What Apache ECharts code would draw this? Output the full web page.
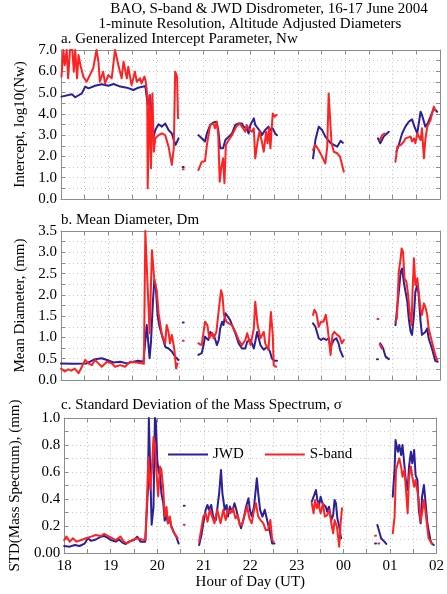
<!DOCTYPE html>
<html>
<head>
<meta charset="utf-8">
<script src="https://cdn.jsdelivr.net/npm/echarts@6/dist/echarts.min.js"></script>
<style>
  html, body { margin: 0; background: #fff; }
  #chart { width: 447px; height: 594px; }
</style>
</head>
<body>
<div id="chart"></div>
<script>
// hour of day (18..26 = 18 UT .. 02 UT next day), value pairs per data run

// a. log10(Nw)
const jwdNw = [
  [[18.01,4.81],[18.23,4.92],[18.3,4.78],[18.44,4.96],[18.51,5.28],[18.58,5.2],[18.72,5.32],[18.86,5.39],[19.0,5.32],[19.11,5.4],[19.25,5.28],[19.39,5.23],[19.53,5.12],[19.63,5.23],[19.78,5.31],[19.83,4.42],[19.88,4.88],[19.95,2.85],[19.99,3.24],[20.06,3.51],[20.13,3.4],[20.2,3.55],[20.27,3.24],[20.34,3.08],[20.38,2.77],[20.42,2.54],[20.48,2.85]],
  [[20.57,1.5],[20.59,1.5]],
  [[20.9,3.0],[20.97,2.85],[21.04,2.7],[21.08,3.08],[21.15,3.48],[21.22,3.6],[21.28,3.63],[21.32,3.24],[21.36,2.38],[21.42,2.38],[21.47,2.77],[21.5,2.7],[21.54,2.93],[21.61,3.08],[21.68,3.48],[21.75,3.55],[21.82,3.55],[21.85,3.4],[21.92,3.32],[21.96,3.08],[22.0,3.48],[22.07,3.79],[22.1,3.48],[22.14,3.4],[22.21,3.16],[22.24,3.0],[22.31,3.24],[22.38,3.4],[22.42,3.24],[22.47,3.32],[22.52,3.08],[22.56,3.0]],
  [[23.32,1.91],[23.37,2.77],[23.44,3.4],[23.51,3.24],[23.58,2.93],[23.62,3.0],[23.69,2.62],[23.76,2.54],[23.83,2.46],[23.9,2.73],[23.95,2.64]],
  [[24.69,2.85],[24.74,2.62],[24.81,2.93],[24.88,3.08],[24.92,3.16]],
  [[25.08,2.22],[25.13,2.54],[25.2,3.08],[25.27,3.4],[25.34,3.63],[25.41,3.74],[25.46,3.4],[25.52,3.08],[25.59,4.1],[25.62,3.95],[25.69,3.4],[25.74,3.55],[25.8,3.87],[25.87,4.26],[25.94,4.1]]
];
const sbandNw = [
  [[18.01,5.75],[18.05,7.0],[18.08,6.29],[18.12,7.0],[18.15,5.67],[18.19,7.0],[18.24,7.0],[18.27,5.98],[18.3,7.0],[18.34,5.67],[18.37,6.76],[18.41,6.29],[18.47,5.75],[18.54,5.51],[18.61,5.82],[18.68,6.14],[18.75,7.0],[18.79,6.45],[18.82,5.51],[18.89,5.98],[18.93,5.43],[19.0,5.82],[19.07,5.67],[19.14,7.0],[19.18,6.61],[19.21,6.29],[19.28,5.67],[19.32,6.45],[19.39,5.67],[19.42,6.21],[19.49,5.35],[19.56,5.98],[19.6,5.51],[19.67,5.67],[19.7,5.43],[19.76,5.75],[19.79,5.51],[19.82,4.88],[19.83,0.5],[19.87,4.88],[19.9,1.44],[19.93,4.96],[19.96,2.22],[19.99,2.85],[20.06,3.0],[20.13,3.08],[20.2,3.0],[20.27,2.46],[20.3,2.54],[20.34,1.6],[20.38,2.38],[20.41,5.98],[20.45,5.75],[20.47,3.79]],
  [[20.57,1.4],[20.59,1.4]],
  [[20.9,1.36],[20.97,1.75],[21.04,1.78],[21.08,2.54],[21.15,3.48],[21.22,3.55],[21.25,3.32],[21.29,3.63],[21.32,3.0],[21.35,0.81],[21.38,1.44],[21.42,1.91],[21.45,0.74],[21.48,2.54],[21.54,2.77],[21.61,3.0],[21.64,2.93],[21.7,3.4],[21.77,3.55],[21.82,3.4],[21.89,3.16],[21.92,3.48],[21.98,3.24],[22.03,3.16],[22.07,3.32],[22.1,1.91],[22.15,2.7],[22.19,3.16],[22.24,2.7],[22.28,2.22],[22.33,3.16],[22.36,2.62],[22.39,3.32],[22.42,2.38],[22.45,3.4],[22.47,4.02],[22.51,3.87],[22.55,3.95]],
  [[23.32,2.3],[23.37,2.54],[23.44,2.3],[23.51,1.99],[23.58,1.67],[23.62,2.46],[23.65,4.96],[23.69,4.88],[23.71,2.62],[23.76,2.22],[23.83,2.15],[23.89,1.99],[23.93,2.02],[23.97,1.28]],
  [[24.73,2.77],[24.78,3.0],[24.83,3.08]],
  [[25.06,1.75],[25.1,2.46],[25.17,2.54],[25.24,2.7],[25.27,2.85],[25.31,2.77],[25.38,2.93],[25.41,2.7],[25.45,2.85],[25.48,2.62],[25.52,3.08],[25.59,2.77],[25.62,3.32],[25.66,1.91],[25.69,2.77],[25.73,3.4],[25.76,3.48],[25.8,3.71],[25.87,4.34],[25.9,4.18]]
];

// b. mean diameter Dm (mm)
const jwdDm = [
  [[18.0,0.39],[18.26,0.38],[18.54,0.39],[18.72,0.49],[18.86,0.51],[18.97,0.47],[19.11,0.41],[19.25,0.43],[19.39,0.39],[19.53,0.43],[19.63,0.45],[19.74,0.43],[19.81,1.29],[19.87,0.51],[19.9,0.9],[19.94,1.84],[19.97,2.35],[20.0,2.2],[20.04,1.5],[20.08,1.25],[20.13,1.06],[20.2,0.78],[20.27,0.74],[20.34,0.67],[20.41,0.55],[20.48,0.47]],
  [[20.57,1.35],[20.59,1.35]],
  [[20.9,0.59],[20.97,0.63],[21.01,0.82],[21.04,1.02],[21.08,1.06],[21.11,0.94],[21.15,1.13],[21.19,1.17],[21.22,1.06],[21.26,0.94],[21.29,0.82],[21.33,0.94],[21.36,1.21],[21.4,1.37],[21.43,1.29],[21.47,1.57],[21.5,1.53],[21.57,1.41],[21.61,1.29],[21.68,1.1],[21.75,0.86],[21.82,0.74],[21.89,0.74],[21.93,0.9],[22.0,0.94],[22.07,0.74],[22.1,0.9],[22.14,1.13],[22.21,0.82],[22.28,0.71],[22.35,0.78],[22.41,0.67],[22.45,0.51],[22.5,0.45],[22.56,0.45]],
  [[23.32,1.33],[23.37,1.25],[23.41,1.29],[23.44,0.98],[23.49,0.94],[23.54,0.98],[23.6,0.94],[23.65,0.98],[23.69,0.78],[23.72,0.82],[23.76,0.94],[23.81,0.98],[23.86,0.86],[23.89,0.71],[23.95,0.55]],
  [[24.67,0.49],[24.69,0.49]],
  [[24.74,0.86],[24.8,0.74],[24.85,0.55],[24.92,0.49]],
  [[25.06,1.29],[25.09,1.25],[25.13,2.07],[25.17,2.54],[25.2,2.62],[25.24,2.27],[25.27,2.23],[25.31,1.84],[25.34,1.45],[25.38,1.13],[25.41,1.06],[25.45,1.53],[25.48,2.07],[25.52,2.23],[25.55,2.0],[25.59,1.37],[25.62,1.06],[25.66,1.02],[25.69,1.13],[25.73,1.21],[25.76,0.98],[25.83,0.74],[25.9,0.45],[25.95,0.43]]
];
const sbandDm = [
  [[18.0,0.27],[18.08,0.2],[18.15,0.25],[18.22,0.22],[18.29,0.27],[18.37,0.16],[18.44,0.31],[18.51,0.47],[18.58,0.39],[18.65,0.35],[18.72,0.47],[18.79,0.39],[18.86,0.31],[18.97,0.43],[19.07,0.39],[19.14,0.31],[19.25,0.35],[19.35,0.31],[19.46,0.43],[19.6,0.41],[19.75,0.38],[19.78,3.5],[19.82,3.5],[19.87,1.1],[19.92,3.05],[19.97,2.35],[20.02,2.11],[20.06,1.57],[20.13,1.06],[20.2,0.86],[20.23,1.29],[20.27,1.13],[20.3,0.86],[20.34,1.06],[20.39,0.74],[20.43,0.27],[20.46,0.39]],
  [[20.57,0.92],[20.59,0.92]],
  [[20.9,0.86],[20.97,0.82],[21.01,1.13],[21.04,1.37],[21.09,1.29],[21.13,0.98],[21.19,1.1],[21.22,0.98],[21.28,1.13],[21.31,1.1],[21.35,1.84],[21.38,2.11],[21.41,1.96],[21.44,1.53],[21.49,1.37],[21.54,1.33],[21.57,1.37],[21.61,1.29],[21.68,1.13],[21.75,0.94],[21.82,0.82],[21.89,0.94],[21.93,1.1],[21.96,0.98],[22.0,0.82],[22.07,1.21],[22.1,1.84],[22.15,1.29],[22.21,0.98],[22.28,1.13],[22.31,0.86],[22.38,0.71],[22.43,1.6],[22.47,1.06],[22.49,0.35],[22.54,0.31]],
  [[23.32,1.53],[23.35,1.65],[23.39,1.57],[23.44,1.25],[23.49,1.37],[23.54,1.37],[23.59,1.53],[23.63,1.21],[23.69,0.59],[23.73,1.06],[23.77,1.13],[23.83,1.06],[23.88,1.02],[23.93,0.86],[23.97,0.94]],
  [[24.68,1.43],[24.7,1.43]],
  [[24.73,0.84],[24.77,0.74]],
  [[25.06,1.37],[25.09,1.45],[25.13,2.54],[25.17,2.86],[25.19,3.09],[25.22,3.01],[25.25,2.39],[25.29,2.31],[25.32,2.07],[25.36,1.6],[25.4,1.29],[25.42,2.07],[25.45,2.86],[25.48,2.23],[25.52,2.39],[25.55,2.07],[25.59,1.65],[25.62,1.53],[25.66,1.8],[25.69,1.72],[25.73,1.53],[25.76,1.21],[25.83,0.9],[25.9,0.59],[25.94,0.47]]
];

// c. standard deviation of the mass spectrum (mm)
const jwdStd = [
  [[18.0,0.052],[18.12,0.047],[18.23,0.059],[18.33,0.052],[18.44,0.07],[18.51,0.109],[18.58,0.09],[18.68,0.1],[18.79,0.121],[18.86,0.126],[18.93,0.114],[19.0,0.096],[19.11,0.084],[19.18,0.1],[19.25,0.077],[19.32,0.067],[19.39,0.084],[19.5,0.096],[19.57,0.121],[19.64,0.084],[19.74,0.084],[19.8,0.47],[19.82,1.0],[19.85,1.0],[19.88,0.21],[19.92,0.34],[19.95,1.0],[19.97,0.98],[20.0,0.69],[20.03,0.6],[20.06,0.58],[20.09,0.44],[20.13,0.37],[20.16,0.24],[20.2,0.28],[20.23,0.22],[20.27,0.25],[20.3,0.2],[20.36,0.15],[20.41,0.12],[20.46,0.07]],
  [[20.57,0.35],[20.59,0.35]],
  [[20.9,0.059],[20.95,0.133],[20.99,0.22],[21.04,0.32],[21.08,0.356],[21.11,0.32],[21.16,0.356],[21.2,0.27],[21.26,0.244],[21.3,0.356],[21.33,0.442],[21.37,0.615],[21.4,0.442],[21.45,0.32],[21.49,0.356],[21.52,0.27],[21.56,0.344],[21.61,0.306],[21.66,0.368],[21.7,0.32],[21.75,0.244],[21.8,0.183],[21.85,0.244],[21.91,0.344],[21.96,0.405],[21.99,0.32],[22.03,0.27],[22.08,0.344],[22.14,0.553],[22.17,0.442],[22.21,0.32],[22.26,0.27],[22.31,0.32],[22.36,0.244],[22.42,0.158],[22.47,0.07],[22.52,0.07]],
  [[23.32,0.38],[23.36,0.417],[23.41,0.467],[23.44,0.393],[23.48,0.356],[23.51,0.417],[23.55,0.368],[23.58,0.38],[23.62,0.343],[23.65,0.306],[23.69,0.343],[23.74,0.244],[23.78,0.281],[23.81,0.393],[23.84,0.368],[23.87,0.257],[23.91,0.195],[23.95,0.109]],
  [[24.68,0.07],[24.7,0.07]],
  [[24.73,0.207],[24.78,0.146],[24.81,0.109],[24.88,0.084],[24.92,0.067]],
  [[25.06,0.417],[25.1,0.627],[25.12,0.837],[25.17,0.75],[25.2,0.8],[25.24,0.726],[25.27,0.8],[25.31,0.652],[25.34,0.54],[25.38,0.467],[25.41,0.64],[25.45,0.75],[25.48,0.664],[25.52,0.763],[25.55,0.578],[25.59,0.54],[25.62,0.318],[25.66,0.22],[25.69,0.417],[25.73,0.504],[25.76,0.393],[25.8,0.232],[25.83,0.17],[25.87,0.096],[25.9,0.07],[25.94,0.059]]
];
const sbandStd = [
  [[18.0,0.096],[18.05,0.121],[18.12,0.084],[18.19,0.109],[18.26,0.084],[18.37,0.096],[18.47,0.109],[18.58,0.121],[18.68,0.133],[18.79,0.126],[18.86,0.141],[18.97,0.121],[19.11,0.096],[19.21,0.121],[19.28,0.084],[19.35,0.072],[19.46,0.096],[19.57,0.109],[19.67,0.1],[19.75,0.096],[19.81,0.71],[19.85,0.47],[19.88,0.59],[19.92,0.86],[19.95,0.81],[19.99,0.565],[20.02,0.42],[20.06,0.64],[20.09,0.615],[20.13,0.47],[20.16,0.27],[20.2,0.34],[20.23,0.22],[20.27,0.27],[20.3,0.195],[20.37,0.145],[20.44,0.109]],
  [[20.57,0.21],[20.59,0.21]],
  [[20.9,0.084],[20.95,0.183],[20.99,0.27],[21.04,0.294],[21.08,0.232],[21.13,0.32],[21.18,0.27],[21.23,0.22],[21.29,0.32],[21.33,0.331],[21.36,0.22],[21.42,0.32],[21.47,0.244],[21.52,0.32],[21.57,0.294],[21.63,0.331],[21.68,0.257],[21.73,0.281],[21.77,0.207],[21.82,0.207],[21.87,0.27],[21.93,0.344],[21.98,0.257],[22.03,0.22],[22.08,0.32],[22.12,0.368],[22.17,0.27],[22.22,0.244],[22.28,0.22],[22.33,0.17],[22.38,0.17],[22.43,0.244],[22.47,0.096],[22.5,0.084]],
  [[23.32,0.368],[23.36,0.294],[23.39,0.393],[23.43,0.331],[23.46,0.368],[23.51,0.294],[23.56,0.368],[23.6,0.27],[23.65,0.281],[23.7,0.318],[23.74,0.22],[23.78,0.146],[23.81,0.244],[23.86,0.195],[23.91,0.047],[23.94,0.22],[23.97,0.331]],
  [[24.68,0.128],[24.7,0.128]],
  [[24.75,0.07],[24.77,0.07]],
  [[25.06,0.146],[25.1,0.27],[25.13,0.615],[25.17,0.602],[25.2,0.701],[25.24,0.64],[25.27,0.565],[25.31,0.615],[25.34,0.491],[25.38,0.294],[25.41,0.565],[25.45,0.64],[25.48,0.565],[25.52,0.491],[25.55,0.54],[25.59,0.528],[25.62,0.393],[25.66,0.232],[25.69,0.294],[25.73,0.393],[25.76,0.318],[25.8,0.195],[25.83,0.109],[25.87,0.096],[25.9,0.07]]
];

const hourTicks = { min: 18, max: 26, interval: 1 };

const FONT = 'Liberation Serif';
const BLUE = '#2b1f9a';
const RED = '#ff2222';
const FRAME = '#8c8c8c';

// join data runs with a null point so the line breaks between them
function runs(segs) {
  const out = [];
  segs.forEach((s, i) => {
    if (i > 0) out.push([s[0][0] - 0.001, null]);
    out.push(...s);
  });
  return out;
}

function dotted() {
  return { show: true, lineStyle: { color: '#c4c4c4', type: [1, 3], width: 1 } };
}
function tickStyle() {
  return { show: true, inside: true, length: 4, lineStyle: { color: FRAME } };
}
function minor() {
  return { show: true, splitNumber: 2, length: 4, lineStyle: { color: FRAME } };
}
function txt(extra) {
  return Object.assign({ color: '#000', fontFamily: FONT, fontSize: 15 }, extra || {});
}

function hourLabel(v) {
  return String(v % 24).padStart(2, '0');
}

function xPair(g, labels) {
  const base = () => ({
    type: 'value', gridIndex: g, min: hourTicks.min, max: hourTicks.max, interval: hourTicks.interval,
    axisLine: { show: true, onZero: false, lineStyle: { color: FRAME } },
    axisTick: tickStyle(), minorTick: minor()
  });
  return [
    Object.assign(base(), {
      position: 'bottom', splitLine: dotted(), minorSplitLine: dotted(),
      axisLabel: txt({ show: labels, formatter: hourLabel, margin: 6 }),
      name: labels ? 'Hour of Day (UT)' : '', nameLocation: 'middle', nameGap: 21,
      nameTextStyle: txt()
    }),
    Object.assign(base(), { position: 'top', splitLine: { show: false }, axisLabel: { show: false } })
  ];
}

function yPair(g, max, interval, fmt, name, gap) {
  const base = () => ({
    type: 'value', gridIndex: g, min: 0, max: max, interval: interval,
    axisLine: { show: true, onZero: false, lineStyle: { color: FRAME } },
    axisTick: tickStyle(), minorTick: minor()
  });
  return [
    Object.assign(base(), {
      position: 'left', splitLine: dotted(), minorSplitLine: dotted(),
      axisLabel: txt({ formatter: fmt, margin: 4 }),
      name: name, nameLocation: 'middle', nameGap: gap, nameTextStyle: txt()
    }),
    Object.assign(base(), { position: 'right', splitLine: { show: false }, axisLabel: { show: false } })
  ];
}

function line(name, segs, g, color) {
  return {
    type: 'line', name: name, data: runs(segs), xAxisIndex: g * 2, yAxisIndex: g * 2,
    symbol: 'none', connectNulls: false, clip: true,
    lineStyle: { color: color, width: 2, cap: 'round', join: 'round' },
    itemStyle: { color: color }
  };
}

function label(text, x, y, align) {
  return {
    type: 'text', x: x, y: y,
    style: { text: text, fill: '#000', font: '15px ' + FONT, align: align, verticalAlign: 'middle' }
  };
}

const chart = echarts.init(document.getElementById('chart'));

chart.setOption({
  backgroundColor: '#fff',
  animation: false,
  textStyle: { fontFamily: FONT, fontSize: 15, color: '#000' },
  grid: [
    { left: 61, top: 50, width: 379, height: 149 },
    { left: 61, top: 231, width: 379, height: 149 },
    { left: 61, top: 418, width: 379, height: 135 }
  ],
  xAxis: [].concat(xPair(0, false), xPair(1, false), xPair(2, true)),
  yAxis: [].concat(
    yPair(0, 7, 1, v => v.toFixed(1), 'Intercept, log10(Nw)', 27),
    yPair(1, 3.5, 0.5, v => v.toFixed(1), 'Mean Diameter, (mm)', 27),
    yPair(2, 1, 0.2, v => (v === 0 ? '0.00' : v.toFixed(1)), 'STD(Mass Spectrum), (mm)', 39)
  ),
  legend: {
    data: ['JWD', 'S-band'], left: 163, top: 442, icon: 'rect', itemWidth: 40, itemHeight: 2, itemGap: 21,
    textStyle: txt()
  },
  graphic: [
    label('BAO, S-band & JWD Disdrometer, 16-17 June 2004', 269, 9, 'center'),
    label('1-minute Resolution, Altitude Adjusted Diameters', 250, 24, 'center'),
    label('a. Generalized Intercept Parameter, Nw', 61, 39, 'left'),
    label('b. Mean Diameter, Dm', 61, 220, 'left'),
    label('c. Standard Deviation of the Mass Spectrum, σ', 61, 405, 'left')
  ],
  series: [
    line('JWD', jwdNw, 0, BLUE),
    line('S-band', sbandNw, 0, RED),
    line('JWD', jwdDm, 1, BLUE),
    line('S-band', sbandDm, 1, RED),
    line('JWD', jwdStd, 2, BLUE),
    line('S-band', sbandStd, 2, RED)
  ]
});
</script>
</body>
</html>
